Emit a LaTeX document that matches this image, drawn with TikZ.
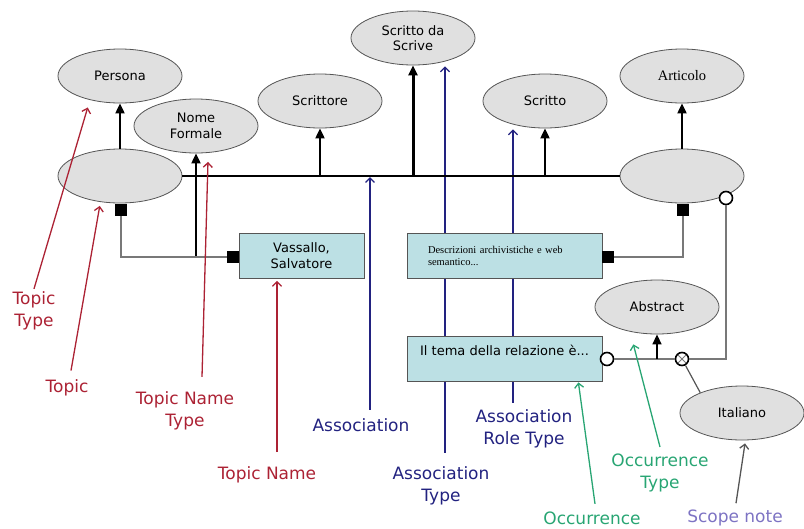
\documentclass[tikz,border=0pt]{standalone}
\usepackage{fontspec}
\setmainfont{DejaVu Sans}
\newfontfamily\timesfont{Liberation Serif}
\usepackage{xcolor}
\usetikzlibrary{arrows.meta,shapes.geometric,backgrounds}

\definecolor{topicgray}{RGB}{224,224,224}
\definecolor{edgegray}{RGB}{85,85,85}
\definecolor{boxcyan}{RGB}{188,224,228}
\definecolor{linkgray}{RGB}{120,120,120}
\definecolor{notered}{RGB}{172,34,52}
\definecolor{noteblue}{RGB}{34,34,128}
\definecolor{notegreen}{RGB}{40,165,115}
\definecolor{notepurple}{RGB}{125,115,195}

\begin{document}
\begin{tikzpicture}[x=1pt,y=-1pt,
    topic/.style={ellipse,draw=edgegray,line width=0.8pt,fill=topicgray,minimum width=124pt,minimum height=54pt,inner sep=0pt,align=center,font=\fontsize{13}{15.5}\selectfont},
    occbox/.style={rectangle,draw=edgegray,line width=0.8pt,fill=boxcyan,minimum width=195pt,minimum height=45pt,align=center,font=\fontsize{13}{16}\selectfont},
    role/.style={rectangle,fill=black,minimum size=12pt,inner sep=0pt},
    ring/.style={circle,draw=black,line width=1.6pt,fill=white,minimum size=13pt,inner sep=0pt},
    isa/.style={-{Triangle[length=10pt,width=9pt]},line width=2pt},
    link/.style={draw=linkgray,line width=1.5pt},
    pointer/.style={-{Straight Barb[length=4.5pt,width=9pt]},line width=1.3pt},
    notetext/.style={align=center,inner sep=0pt,font=\fontsize{17}{21.5}\selectfont}]
    \useasboundingbox (0,0) rectangle (804,528);

    % topics
    \node[topic] (persona) at (120,76) {Persona};
    \node[topic] (tleft) at (120,176) {};
    \node[topic] (nome) at (196,126) {Nome\\Formale};
    \node[topic] (scrittore) at (320,101) {Scrittore};
    \node[topic] (scrds) at (413,38) {Scritto da\\Scrive};
    \node[topic] (scritto) at (545,101) {Scritto};
    \node[topic,font=\timesfont\fontsize{14.5}{17}\selectfont] (articolo) at (682,76) {Articolo};
    \node[topic] (tright) at (682,176) {};
    \node[topic] (abstract) at (657,307) {Abstract};
    \node[topic] (italiano) at (742,413) {Italiano};

    \node[occbox,minimum width=125pt] (vassallo) at (301.5,256) {Vassallo,\\Salvatore};
    \node[occbox,text width=153pt,align=left,font=\timesfont\fontsize{10.5}{12}\selectfont] (descr) at (504.5,256) {Descrizioni archivistiche e web\\semantico...};
    \node[occbox,text height=14pt,text depth=21pt,inner ysep=5pt] (tema) at (504.5,358.5) {Il tema della relazione è...};

    \node[role] (r1) at (121,210) {};
    \node[role] (r2) at (233,257) {};
    \node[role] (r3) at (608,257) {};
    \node[role] (r4) at (683,210) {};
    \node[ring] (o1) at (726,198) {};
    \node[ring] (o2) at (607,359) {};
    \node[ring,path picture={\draw[linkgray,line width=0.8pt]
        (path picture bounding box.north west) -- (path picture bounding box.south east)
        (path picture bounding box.north east) -- (path picture bounding box.south west);}] (o3) at (682,359) {};

    % association
    \draw[line width=2pt] (tleft) -- (tright);
    \draw[isa] (tleft) -- (persona);
    \draw[isa] (tright) -- (articolo);
    \draw[isa] (nome |- r2) -- (nome);
    \foreach \t in {scrittore,scritto}
        \draw[isa] (\t |- tleft) -- (\t);
    \draw[isa,line width=3pt] (scrds |- tleft) -- (scrds);

    \draw[link] (r1) |- (r2);
    \draw[link] (r3) -| (r4);
    \draw[link] (o2) -- (o3);
    \draw[link] (o3) -| (o1);
    \draw[link,line width=1.2pt,draw=edgegray] (o3) -- (italiano.154);
    \draw[isa,line width=1.5pt] (abstract |- o2) -- (abstract);

    % labels
    \node[notetext,notered] (ttype) at (34,311) {Topic\\Type};
    \node[notetext,notered] (ltopic) at (67,388) {Topic};
    \node[notetext,notered] (tntype) at (185,411) {Topic Name\\Type};
    \node[notetext,notered] (tname) at (267,475) {Topic Name};
    \node[notetext,noteblue] (lassoc) at (361,425) {Association};
    \node[notetext,noteblue] (atype) at (441,486) {Association\\Type};
    \node[notetext,noteblue] (artype) at (524,429) {Association\\Role Type};
    \node[notetext,notegreen] (locc) at (592,518) {Occurrence};
    \node[notetext,notegreen] (otype) at (660,473) {Occurrence\\Type};
    \node[notetext,notepurple] (lscope) at (735,518) {Scope note};

    \coordinate (at) at ([shift={(4pt,14pt)}]atype.north);
    \coordinate (art) at ([shift={(-11pt,7pt)}]artype.north);
    \coordinate (asc) at ([shift={(9pt,8.5pt)}]lassoc.north);

    \draw[pointer,notered] ([yshift=3pt]ttype.north) -- ([yshift=-8pt]persona.216);
    \draw[pointer,notered] ([shift={(4pt,9pt)}]ltopic.north) -- ([yshift=-4pt]tleft.232);
    \draw[pointer,notered] ([shift={(17pt,15pt)}]tntype.north) -- ([yshift=-9pt]nome.294);
    \draw[pointer,notered] ([shift={(10pt,14.5pt)}]tname.north) -- ([xshift=-24.5pt,yshift=-2pt]vassallo.south);
    \draw[pointer,noteblue,shorten >=1pt] (asc) -- (asc |- tleft);
    \begin{pgfonlayer}{background}
        \draw[pointer,noteblue,shorten >=1pt] (at) -- (at |- scrds.south);
        \draw[pointer,noteblue,shorten >=1pt] (art) -- (art |- scritto.south);
    \end{pgfonlayer}
    \draw[pointer,notegreen] ([shift={(3pt,7.5pt)}]locc.north) -- ([xshift=-24pt,yshift=-1pt]tema.south east);
    \draw[pointer,notegreen] ([yshift=7pt]otype.north) -- ([yshift=-12pt]abstract.227);
    \draw[pointer,edgegray] ([shift={(1pt,6.5pt)}]lscope.north) -- ([shift={(3pt,-3pt)}]italiano.south);
    % \draw[link] (descr) -- (tema);
\end{tikzpicture}
\end{document}
